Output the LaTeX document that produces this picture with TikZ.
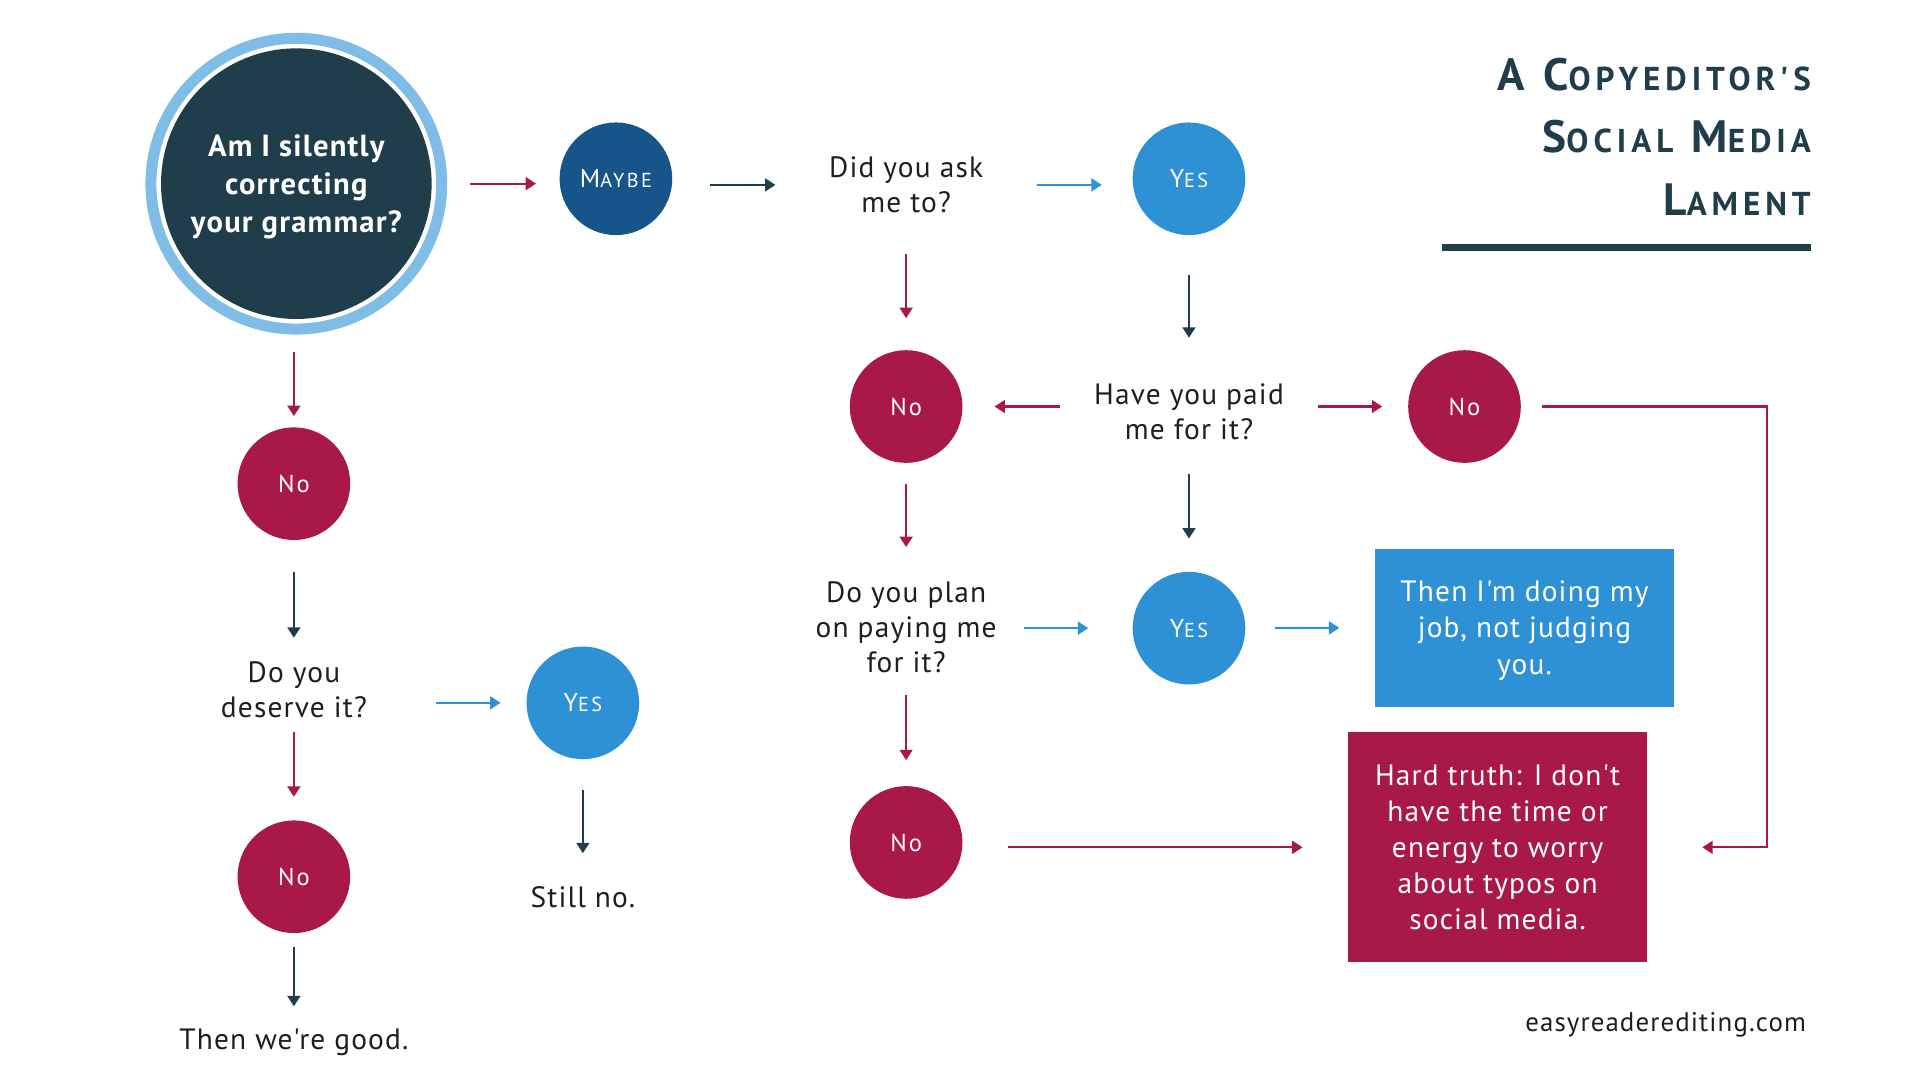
\documentclass[tikz,border=0pt]{standalone}
\usepackage{fontspec}
\setmainfont{PT Sans}[Ligatures=TeXOff, LetterSpace=4]
\usetikzlibrary{arrows.meta}

\definecolor{ink}{HTML}{1F3D4B}
\definecolor{qtext}{HTML}{1E1E1E}
\definecolor{nored}{HTML}{A8194A}
\definecolor{yesblue}{HTML}{2E91D6}
\definecolor{maybeblue}{HTML}{16548A}
\definecolor{ringblue}{HTML}{80BDE6}

% capital followed by smaller capitals
\newcommand{\fakesc}[3][16.5]{#2{\fontsize{#1}{#1}\selectfont #3}}

\tikzset{
  circ/.style={circle, minimum size=92pt, inner sep=0pt, text=white,
    font=\fontsize{20}{24}\selectfont\addfontfeature{LetterSpace=8}},
  nocirc/.style={circ, fill=nored},
  yescirc/.style={circ, fill=yesblue,
    font=\fontsize{21}{24}\selectfont\addfontfeature{LetterSpace=12}},
  ques/.style={align=center, inner sep=0pt, text=qtext,
    font=\fontsize{24}{28.5}\selectfont},
  card/.style={align=center, inner sep=0pt, text=white, minimum width=244pt,
    text depth=0pt, font=\fontsize{24}{29.5}\selectfont},
  link/.style={line width=1.7pt, -{Triangle[length=8.5pt, width=10.5pt]}},
  redlink/.style={link, draw=nored},
  bluelink/.style={link, draw=yesblue},
  darklink/.style={link, draw=ink},
  gaps/.style 2 args={shorten <=#1pt, shorten >=#2pt}
}

\begin{document}
\begin{tikzpicture}[x=1pt, y=-1pt]
  \useasboundingbox (0,0) rectangle (1568,882);

  % opening question
  \node (grammar) [circle, fill=ink, minimum size=221pt, inner sep=0pt, text=white,
    align=center, text depth=0pt, font=\bfseries\fontsize{25}{31}\selectfont] at (242,150)
    {Am I silently\\correcting\\your grammar?};
  \draw[ringblue, line width=9pt] (grammar) circle[radius=118.75pt];

  % top row and middle column
  \node (maybe) [yescirc, fill=maybeblue] at (503,146) {\fakesc{M}{AYBE}};
  \node (ask) [ques, minimum width=213pt, minimum height=112pt] at (740,151) {Did you ask\\me to?};
  \node (yes1) [yescirc] at (971,146) {\fakesc{Y}{ES}};
  \node (paid) [ques, minimum width=210pt, minimum height=120pt] at (971,336) {Have you paid\\me for it?};
  \node (no1) [nocirc] at (740,332) {No};
  \node (no2) [nocirc] at (1196,332) {No};
  \node (plan) [ques, minimum width=192pt, minimum height=130pt] at (740,512) {Do you plan\\on paying me\\for it?};
  \node (yes2) [yescirc] at (971,513) {\fakesc{Y}{ES}};
  \node (job) [card, fill=yesblue, minimum height=129pt] at (1245,512.5) {Then I'm doing my\\job, not judging\\you.};
  \node (no3) [nocirc] at (740,688) {No};
  \node (hard) [card, fill=nored, minimum height=188pt] at (1223,692) {Hard truth: I don't\\have the time or\\energy to worry\\about typos on\\social media.};
  \coordinate (turn) at (1443,692);

  % left column
  \node (no4) [nocirc] at (240,395) {No};
  \node (deserve) [ques, minimum width=232pt, minimum height=84pt] at (240,563) {Do you\\deserve it?};
  \node (yes3) [yescirc] at (476,574) {\fakesc{Y}{ES}};
  \node (still) [ques, minimum height=72pt] at (476,733) {Still no.};
  \node (no5) [nocirc] at (240,716) {No};
  \node (good) [ques, text depth=0pt, minimum height=54pt] at (240,849) {Then we're good.};

  % title and footer
  \node (title) [anchor=north east, align=right, inner sep=0pt, text=ink,
    font=\bfseries\fontsize{37}{51}\selectfont\addfontfeature{LetterSpace=15}] at (1479,47)
    {A \fakesc[27]{C}{OPYEDITOR'S}\\\fakesc[27]{S}{OCIAL} \fakesc[27]{M}{EDIA}\\\fakesc[27]{L}{AMENT}};
  \draw[ink, line width=6pt] (1178,202) -- (1479,202);
  \node (site) [anchor=base east, inner sep=0pt, text=qtext,
    font=\fontsize{22}{24}\selectfont] at (1475,842) {easyreaderediting.com};

  % connectors
  \draw[redlink, gaps={31.5}{19}] (grammar) -- (grammar -| maybe.west);
  \draw[darklink, gaps={31}{0}] (maybe.east |- ask) -- (ask);
  \draw[bluelink, gaps={0}{25}] (ask) -- (ask -| yes1.west);
  \draw[redlink, gaps={0}{26}] (ask) -- (no1);
  \draw[darklink, gaps={32}{0}] (yes1) -- (paid);
  \draw[redlink, gaps={0}{26}] (paid.west |- no1) -- (no1);
  \draw[redlink, gaps={0}{21}] (paid.east |- no2) -- (no2);
  \draw[darklink, gaps={-9}{27}] (paid) -- (yes2);
  \draw[redlink, gaps={17}{0}] (no1) -- (plan);
  \draw[bluelink, gaps={0}{36}] (plan.east |- yes2) -- (yes2);
  \draw[bluelink, gaps={24}{29}] (yes2) -- (job);
  \draw[redlink, gaps={-10}{21}] (plan) -- (no3);
  \draw[redlink, gaps={37}{37}] (no3.east |- hard) -- (hard);
  \draw[redlink, gaps={17}{45}] (no2) -| (turn) -- (hard);
  \draw[redlink, gaps={26.5}{9}] (grammar.south -| no4) -- (no4);
  \draw[darklink, gaps={26}{0}] (no4) -- (deserve);
  \draw[bluelink, gaps={0}{21}] (deserve.east |- yes3) -- (yes3);
  \draw[redlink, gaps={-7}{19}] (deserve) -- (no5);
  \draw[darklink, gaps={25}{0}] (yes3) -- (still);
  \draw[darklink, gaps={11}{0}] (no5) -- (good);
\end{tikzpicture}
\end{document}
